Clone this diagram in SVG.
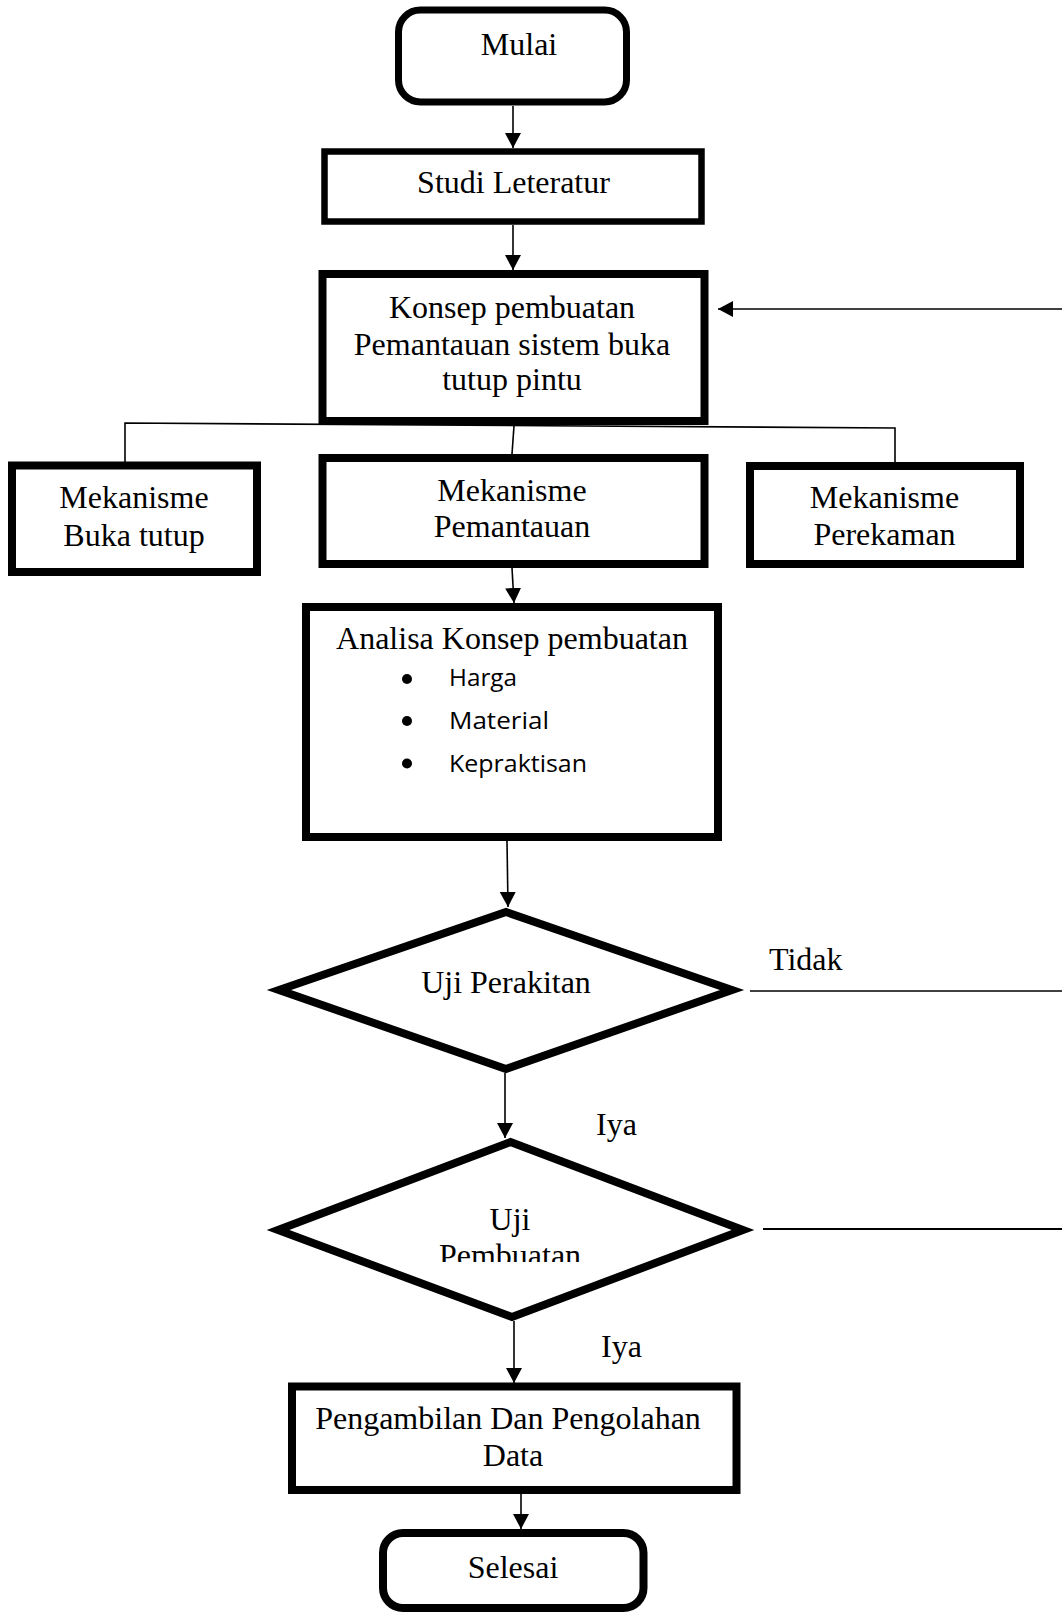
<svg xmlns="http://www.w3.org/2000/svg" width="1062" height="1614" viewBox="0 0 1062 1614">
<style>
.box{fill:#fff;stroke:#000}
.t{font-family:"Liberation Serif","Times New Roman",serif;font-size:32px;fill:#000;text-anchor:middle}
.lbl{font-family:"Liberation Serif","Times New Roman",serif;font-size:32px;fill:#000}
.b{font-family:"Open Sans","Noto Sans",sans-serif;font-size:24.5px;fill:#000}
.c{fill:none;stroke:#000;stroke-width:1.6}
</style>
<defs>
<marker id="ah" markerUnits="userSpaceOnUse" markerWidth="15" markerHeight="16" viewBox="0 0 15 16" refX="15" refY="8" orient="auto">
<path d="M0,0 L15,8 L0,16 z" fill="#000"/>
</marker>
<clipPath id="clipD2"><rect x="380" y="1190" width="260" height="72"/></clipPath>
</defs>
<rect width="1062" height="1614" fill="#fff"/>

<g id="connectors">
<line class="c" x1="513" y1="106" x2="513" y2="148" marker-end="url(#ah)"/>
<line class="c" x1="513" y1="225" x2="513" y2="270" marker-end="url(#ah)"/>
<line class="c" x1="1062" y1="309" x2="718" y2="309" marker-end="url(#ah)"/>
<polyline class="c" points="125,462 125,423 895,428 895,462"/>
<line class="c" x1="514" y1="426" x2="512" y2="454"/>
<line class="c" x1="512" y1="568" x2="514" y2="603" marker-end="url(#ah)"/>
<line class="c" x1="507" y1="841" x2="508" y2="907" marker-end="url(#ah)"/>
<line class="c" x1="750" y1="991" x2="1062" y2="991"/>
<line class="c" x1="505" y1="1073" x2="505" y2="1138" marker-end="url(#ah)"/>
<line class="c" x1="763" y1="1229" x2="1062" y2="1229" style="stroke-width:2"/>
<line class="c" x1="514" y1="1321" x2="514" y2="1383" marker-end="url(#ah)"/>
<line class="c" x1="521" y1="1494" x2="521" y2="1529" marker-end="url(#ah)"/>
<text class="lbl" x="769" y="970">Tidak</text>
<text class="lbl" x="596" y="1135">Iya</text>
<text class="lbl" x="601" y="1357">Iya</text>
</g>

<g id="mulai">
<rect class="box" x="398.5" y="10" width="228" height="92" rx="22" ry="22" stroke-width="7"/>
<text class="t" x="519" y="55">Mulai</text>
</g>

<g id="studi">
<rect class="box" x="324.5" y="151.5" width="377" height="70" stroke-width="6.5"/>
<text class="t" x="513.5" y="193">Studi Leteratur</text>
</g>

<g id="konsep">
<rect class="box" x="322.5" y="274" width="382" height="147" stroke-width="8"/>
<text class="t" x="512" y="318">Konsep pembuatan</text>
<text class="t" x="512" y="355">Pemantauan sistem buka</text>
<text class="t" x="512" y="390">tutup pintu</text>
</g>

<g id="buka">
<rect class="box" x="12" y="465.5" width="245" height="106.5" stroke-width="8"/>
<text class="t" x="134" y="508">Mekanisme</text>
<text class="t" x="134" y="546">Buka tutup</text>
</g>

<g id="pemantauan">
<rect class="box" x="322.5" y="458" width="382" height="106" stroke-width="8"/>
<text class="t" x="512" y="501">Mekanisme</text>
<text class="t" x="512" y="537">Pemantauan</text>
</g>

<g id="perekaman">
<rect class="box" x="750" y="466" width="270" height="98" stroke-width="8"/>
<text class="t" x="884.5" y="508">Mekanisme</text>
<text class="t" x="884.5" y="545">Perekaman</text>
</g>

<g id="analisa">
<rect class="box" x="306" y="607" width="412" height="230" stroke-width="8"/>
<text class="t" x="512" y="649">Analisa Konsep pembuatan</text>
<circle cx="407" cy="679" r="5"/>
<circle cx="407" cy="721" r="5"/>
<circle cx="407" cy="763.5" r="5"/>
<text class="b" x="449" y="686" textLength="68" lengthAdjust="spacingAndGlyphs">Harga</text>
<text class="b" x="449" y="728.5" textLength="100" lengthAdjust="spacingAndGlyphs">Material</text>
<text class="b" x="449" y="771.5" textLength="138" lengthAdjust="spacingAndGlyphs">Kepraktisan</text>
</g>

<g id="uji-perakitan">
<polygon class="box" points="506,912 732,990 506,1069 279,990" stroke-width="8"/>
<text class="t" x="506" y="993">Uji Perakitan</text>
</g>

<g id="uji-pembuatan">
<polygon class="box" points="510.5,1142 743,1230 512,1317 278,1230" stroke-width="8"/>
<text class="t" x="510" y="1230">Uji</text>
<text class="t" x="510" y="1266" clip-path="url(#clipD2)">Pembuatan</text>
</g>

<g id="pengambilan">
<rect class="box" x="292" y="1386.5" width="444.5" height="103.5" stroke-width="8"/>
<text class="t" x="508" y="1429">Pengambilan Dan Pengolahan</text>
<text class="t" x="513" y="1466">Data</text>
</g>

<g id="selesai">
<rect class="box" x="383" y="1533" width="260.5" height="75" rx="20" ry="20" stroke-width="8"/>
<text class="t" x="513" y="1578">Selesai</text>
</g>
</svg>
